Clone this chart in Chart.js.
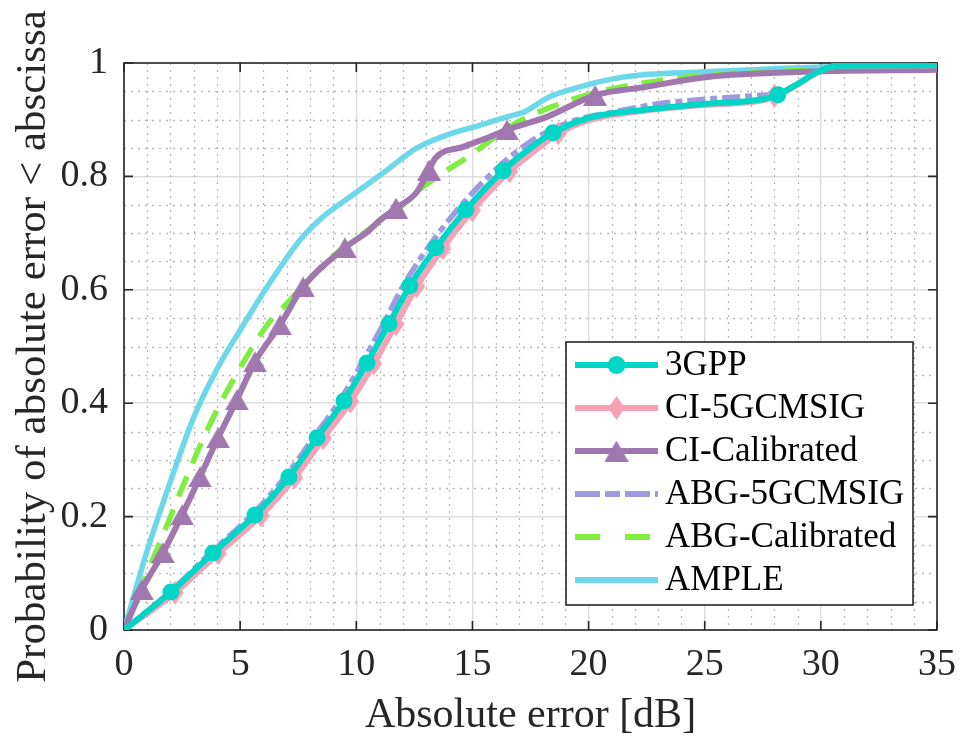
<!DOCTYPE html>
<html><head><meta charset="utf-8">
<script src="https://cdn.jsdelivr.net/npm/chart.js@4.4.1/dist/chart.umd.min.js"></script>
<style>html,body{margin:0;padding:0;background:#fff;}canvas{display:block;}</style>
</head><body>
<canvas id="c" width="960" height="738"></canvas>
<script>
// ---- data ----
const xTickLabels = ['0','5','10','15','20','25','30','35'];
const yTickLabels = ['0','0.2','0.4','0.6','0.8','1'];
const seriesNames = ['3GPP','CI-5GCMSIG','CI-Calibrated','ABG-5GCMSIG','ABG-Calibrated','AMPLE'];
const xTitle = 'Absolute error [dB]';
const yTitle = 'Probability of absolute error < abscissa';

const gppX = [0,2.02,3.83,5.64,7.10,8.31,9.47,10.46,11.41,12.31,13.43,14.72,16.32,17.4,18.47,20,22.5,25,27.5,28.15,29,29.6,30.2,30.7,35];
const gppY = [0,0.067,0.136,0.203,0.270,0.339,0.404,0.471,0.540,0.607,0.674,0.741,0.810,0.847,0.877,0.903,0.918,0.928,0.936,0.944,0.963,0.978,0.990,0.995,0.996];
const gppMarkX = [2.02,3.83,5.64,7.10,8.31,9.47,10.46,11.41,12.31,13.43,14.72,16.32,18.47,28.15];
const gppMarkY = [0.067,0.136,0.203,0.270,0.339,0.404,0.471,0.540,0.607,0.674,0.741,0.810,0.877,0.944];

const ci5gX = [0,2.2,4.05,5.9,7.35,8.58,9.75,10.75,11.7,12.6,13.72,15.0,16.6,17.7,18.7,20.1,22.5,25,27.5,28.0,29,29.6,30.2,30.7,35];
const ci5gY = [0,0.066,0.135,0.202,0.269,0.338,0.403,0.470,0.539,0.606,0.673,0.740,0.809,0.846,0.876,0.900,0.916,0.926,0.934,0.942,0.962,0.978,0.990,0.995,0.996];
const ci5gMarkX = [2.2,4.05,5.9,7.35,8.58,9.75,10.75,11.7,12.6,13.72,15.0,16.6,18.7,28.0];
const ci5gMarkY = [0.066,0.135,0.202,0.269,0.338,0.403,0.470,0.539,0.606,0.673,0.740,0.809,0.876,0.942];

const ciCalX = [0,0.77,1.68,2.50,3.27,4.05,4.86,5.64,6.72,7.71,9.51,10.5,11.0,11.71,12.6,13.13,13.4,14.6,15.76,16.49,18.2,20.28,22.5,25,29,35];
const ciCalY = [0,0.071,0.136,0.203,0.270,0.339,0.406,0.473,0.538,0.605,0.674,0.703,0.722,0.744,0.772,0.811,0.832,0.852,0.870,0.882,0.905,0.943,0.958,0.975,0.984,0.988];
const ciCalMarkX = [0.77,1.68,2.50,3.27,4.05,4.86,5.64,6.72,7.71,9.51,11.71,13.13,16.49,20.28];
const ciCalMarkY = [0.071,0.136,0.203,0.270,0.339,0.406,0.473,0.538,0.605,0.674,0.744,0.811,0.882,0.943];

const abg5gX = [0,2.0,3.75,5.55,6.98,8.17,9.3,10.26,11.17,12.02,13.08,14.35,15.95,17.3,18.2,19.5,21,23,25,27.4,28.2,29,29.6,30.2,30.7,35];
const abg5gY = [0,0.068,0.137,0.205,0.272,0.340,0.405,0.472,0.540,0.607,0.674,0.741,0.810,0.856,0.878,0.900,0.913,0.928,0.936,0.943,0.946,0.963,0.978,0.990,0.994,0.995];

const abgCalX = [0,0.5,1.0,1.9,2.7,3.55,4.55,5.4,6.2,7.0,8.0,9.0,10.0,11.0,11.8,12.5,13.7,15.0,16.0,16.9,18.9,20.5,22.9,25,30,35];
const abgCalY = [0,0.05,0.10,0.19,0.27,0.35,0.43,0.49,0.54,0.575,0.62,0.66,0.69,0.72,0.742,0.77,0.805,0.84,0.87,0.895,0.93,0.95,0.968,0.978,0.988,0.99];

const ampleX = [0,1,2,3,4,5,6.16,7.58,8.6,9.73,11.15,12.6,13.9,15.3,16.5,17.3,18.2,19.63,21.05,22.6,24.8,27,30,35];
const ampleY = [0,0.14,0.262,0.375,0.46,0.529,0.605,0.688,0.730,0.764,0.806,0.850,0.873,0.890,0.905,0.915,0.938,0.958,0.972,0.980,0.984,0.988,0.993,0.996];

// ---- styles ----
const FONT = "'Liberation Serif','Times New Roman',serif";
const TEXT = '#262626';
const C_GPP = '#00d6c6', C_CI5G = '#f8a0b6', C_CICAL = '#a077ae', C_ABG5G = '#a09ae0', C_ABGCAL = '#7fee3e', C_AMPLE = '#6cd8ea';
const LW = 6;

function pts(xs, ys){ return xs.map((x,i)=>({x:x, y:ys[i]})); }
function marker(type, color, w, h){
  const c = document.createElement('canvas'); c.width = w; c.height = h;
  const g = c.getContext('2d'); g.fillStyle = color; g.beginPath();
  if (type === 'diamond'){ g.moveTo(w/2,0); g.lineTo(w,h/2); g.lineTo(w/2,h); g.lineTo(0,h/2); }
  else { g.moveTo(w/2,0); g.lineTo(w,h); g.lineTo(0,h); }
  g.closePath(); g.fill(); return c;
}
const diamondImg = marker('diamond', C_CI5G, 17, 24);
const triImg = marker('triangle', C_CICAL, 24, 21);

function lineDS(label, xs, ys, color, dash, w){
  return {label, data: pts(xs,ys), borderColor: color, borderWidth: w||LW, borderDash: dash||[],
    pointRadius: 0, fill:false, cubicInterpolationMode:'monotone', borderJoinStyle:'round', borderCapStyle:'butt'};
}
function markDS(xs, ys, style, color, r){
  return {label:'', data: pts(xs,ys), showLine:false, pointStyle: style, pointRadius: r,
    pointBackgroundColor: color, pointBorderColor: color, pointBorderWidth: 0};
}

const datasets = [
  markDS(gppMarkX, gppMarkY, 'circle', C_GPP, 8.5),
  lineDS(seriesNames[0], gppX, gppY, C_GPP),
  markDS(ci5gMarkX, ci5gMarkY, diamondImg, C_CI5G, 10),
  lineDS(seriesNames[1], ci5gX, ci5gY, C_CI5G),
  markDS(ciCalMarkX, ciCalMarkY, triImg, C_CICAL, 10),
  lineDS(seriesNames[2], ciCalX, ciCalY, C_CICAL),
  lineDS(seriesNames[3], abg5gX, abg5gY, C_ABG5G, [18,5,7,5], 5.5),
  lineDS(seriesNames[4], abgCalX, abgCalY, C_ABGCAL, [22,14], 5.5),
  lineDS(seriesNames[5], ampleX, ampleY, C_AMPLE, [], 5.5)
];

// minor dotted grid + axes box with inward ticks
const framePlugin = {
  id:'frame',
  beforeDatasetsDraw(chart){
    const {ctx, chartArea:a, scales:{x, y}} = chart;
    ctx.save();
    ctx.strokeStyle = '#b8b8b8'; ctx.lineWidth = 1.3; ctx.setLineDash([2,5]);
    for (let v=1; v<35; v++){ if (v%5===0) continue;
      const p = Math.round(x.getPixelForValue(v))+0.5;
      ctx.beginPath(); ctx.moveTo(p,a.top); ctx.lineTo(p,a.bottom); ctx.stroke(); }
    for (let k=1; k<20; k++){ if (k%4===0) continue;
      const p = Math.round(y.getPixelForValue(k*0.05))+0.5;
      ctx.beginPath(); ctx.moveTo(a.left,p); ctx.lineTo(a.right,p); ctx.stroke(); }
    ctx.setLineDash([]);
    ctx.strokeStyle = '#262626'; ctx.lineWidth = 1.6;
    ctx.strokeRect(a.left, a.top, a.right-a.left, a.bottom-a.top);
    const tl = 9;
    x.ticks.forEach(t=>{ const p = x.getPixelForValue(t.value);
      ctx.beginPath(); ctx.moveTo(p,a.bottom); ctx.lineTo(p,a.bottom-tl); ctx.moveTo(p,a.top); ctx.lineTo(p,a.top+tl); ctx.stroke(); });
    y.ticks.forEach(t=>{ const p = y.getPixelForValue(t.value);
      ctx.beginPath(); ctx.moveTo(a.left,p); ctx.lineTo(a.left+tl,p); ctx.moveTo(a.right,p); ctx.lineTo(a.right-tl,p); ctx.stroke(); });
    ctx.restore();
  }
};

// legend drawn inside the axes (MATLAB style)
const legendPlugin = {
  id:'boxLegend',
  afterDatasetsDraw(chart){
    const {ctx, chartArea:a} = chart;
    const right = a.right - 24, bottom = a.bottom - 25;
    const left = right - 347, top = bottom - 263;
    ctx.save();
    ctx.fillStyle = '#ffffff'; ctx.fillRect(left, top, right-left, bottom-top);
    ctx.strokeStyle = '#262626'; ctx.lineWidth = 1.6; ctx.strokeRect(left, top, right-left, bottom-top);
    const items = [
      {c:C_GPP, dash:[], m:'circle'},
      {c:C_CI5G, dash:[], m:diamondImg},
      {c:C_CICAL, dash:[], m:triImg},
      {c:C_ABG5G, dash:[25,5,15,5]},
      {c:C_ABGCAL, dash:[25,25]},
      {c:C_AMPLE, dash:[]}
    ];
    const x0 = left + 9, x1 = left + 92, xm = (x0+x1)/2;
    items.forEach((it,i)=>{
      const yy = top + 23 + i*43;
      ctx.strokeStyle = it.c; ctx.lineWidth = 6; ctx.setLineDash(it.dash); ctx.lineCap='butt';
      ctx.beginPath(); ctx.moveTo(x0,yy); ctx.lineTo(x1,yy); ctx.stroke();
      ctx.setLineDash([]);
      if (it.m === 'circle'){ ctx.fillStyle = it.c; ctx.beginPath(); ctx.arc(xm,yy,9,0,Math.PI*2); ctx.fill(); }
      else if (it.m){ ctx.drawImage(it.m, xm-it.m.width/2, yy-it.m.height/2); }
      ctx.fillStyle = '#000'; ctx.font = '35px ' + FONT; ctx.textBaseline='middle'; ctx.textAlign='left';
      ctx.fillText(seriesNames[i], left + 99, yy+1);
    });
    ctx.restore();
  }
};

new Chart(document.getElementById('c'), {
  type:'line',
  data:{datasets},
  options:{
    responsive:false, animation:false, devicePixelRatio:1,
    layout:{padding:{left:0,right:23,top:63,bottom:0}},
    plugins:{legend:{display:false}, tooltip:{enabled:false}},
    scales:{
      x:{type:'linear', min:0, max:35,
        ticks:{stepSize:5, font:{family:FONT,size:38}, color:TEXT, padding:12, maxRotation:0,
          callback:(v,i)=>xTickLabels[i]},
        grid:{color:'#dedede', lineWidth:1.5, drawTicks:false},
        border:{display:false},
        title:{display:true, text:xTitle, font:{family:FONT,size:42,lineHeight:1.0}, color:TEXT, padding:{top:0,bottom:1}},
        afterFit:(s)=>{ s.height = 108; s.paddingLeft = 0; s.paddingRight = 0; }
      },
      y:{type:'linear', min:0, max:1,
        ticks:{stepSize:0.2, font:{family:FONT,size:38}, color:TEXT, padding:16,
          callback:(v,i)=>yTickLabels[i]},
        grid:{color:'#dedede', lineWidth:1.5, drawTicks:false},
        border:{display:false},
        title:{display:true, text:yTitle, font:{family:FONT,size:43}, color:TEXT, padding:{top:8,bottom:0}},
        afterFit:(s)=>{ s.width = 124; s.paddingTop = 0; s.paddingBottom = 0; }
      }
    }
  },
  plugins:[framePlugin, legendPlugin]
});
</script>
</body></html>
